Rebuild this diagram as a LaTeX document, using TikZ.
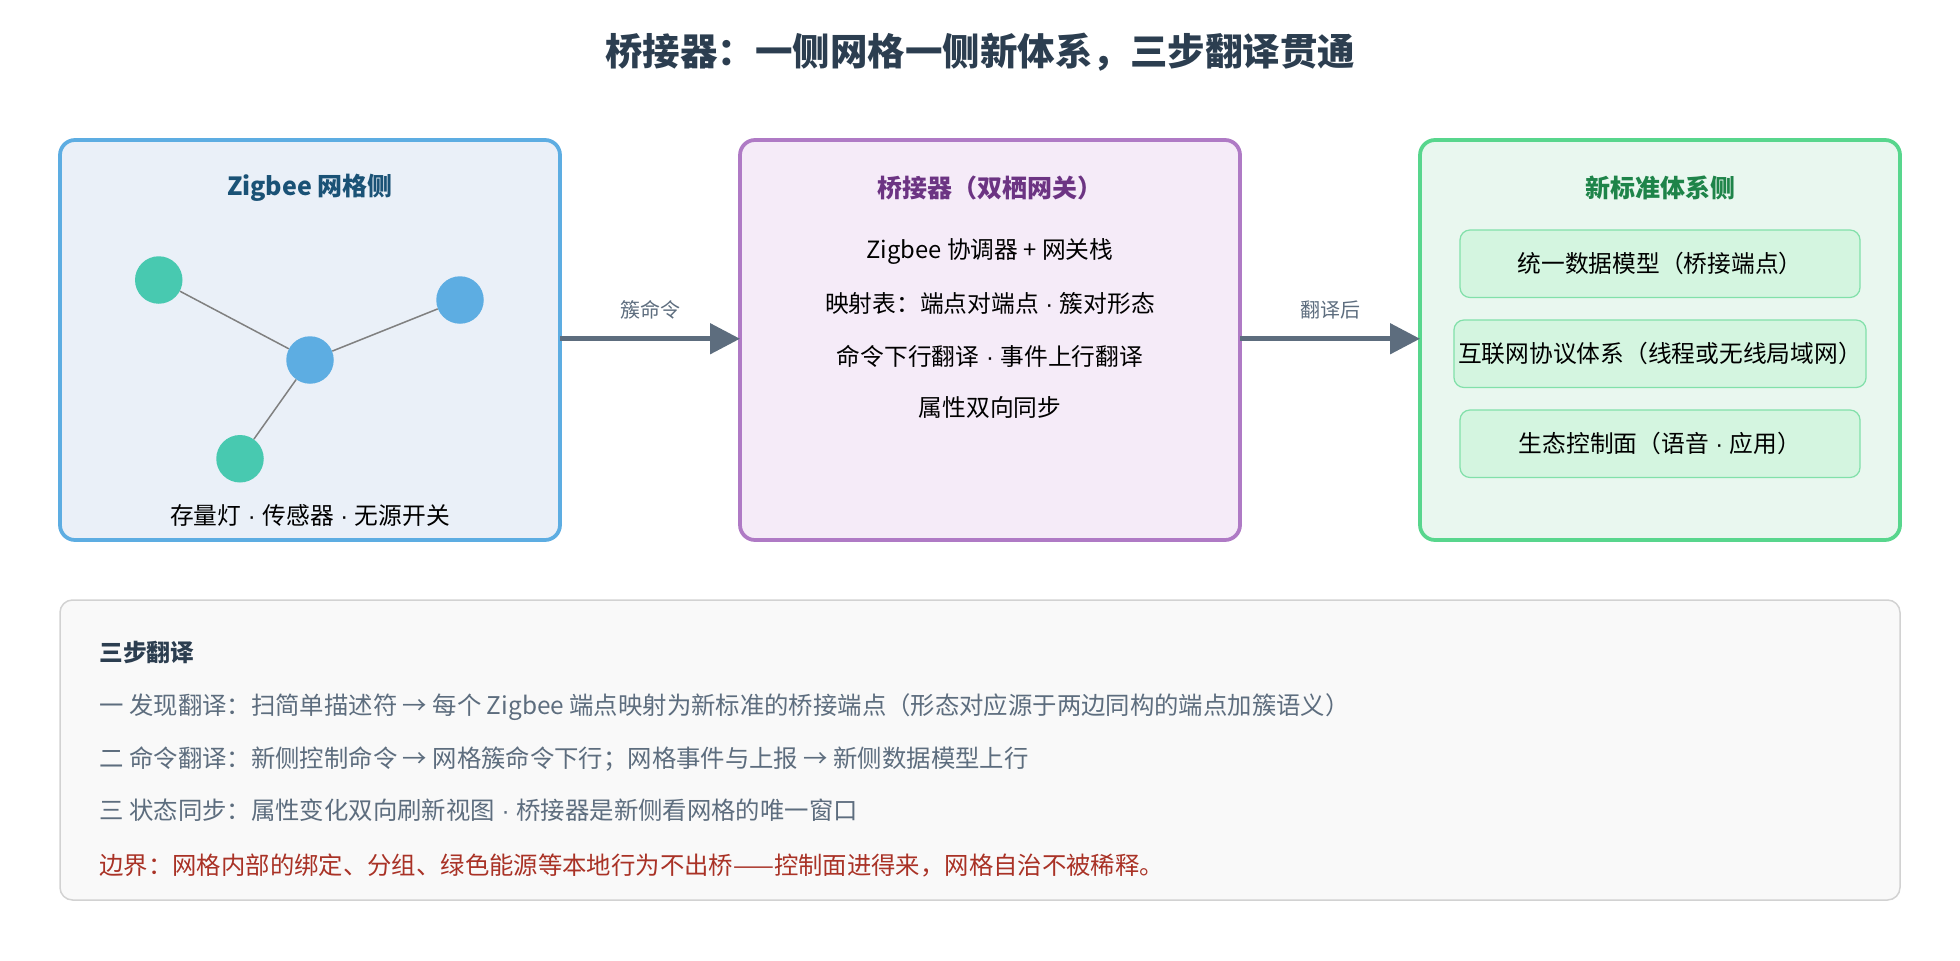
\documentclass[tikz,border=0pt]{standalone}
\usepackage{fontspec}
\setmainfont{Noto Sans CJK SC}
\newfontfamily\lat{Liberation Sans}
\newcommand{\md}{{\lat\ ·\ }}
\usetikzlibrary{arrows.meta}
\definecolor{ttl}{HTML}{2C3E50}
\definecolor{gr}{HTML}{5D6D7E}
\definecolor{bluedot}{HTML}{5DADE2}
\definecolor{greendot}{HTML}{48C9B0}
\tikzset{
 box/.style={draw,line width=3pt,rounded corners=12pt},
 inner/.style={draw=HTMLgreen,fill=HTMLgreenf,line width=1pt,rounded corners=8pt,minimum width=320pt,minimum height=54pt,font=\fontsize{19}{22}\selectfont},
 txt/.style={font=\fontsize{19}{22}\selectfont},
 hd/.style={font=\fontsize{20}{24}\selectfont\bfseries},
 dot/.style={circle,minimum size=38pt,inner sep=0pt},
 arr/.style={draw=gr,line width=4pt,-{Triangle[length=24pt,width=24pt]}},
 lab/.style={font=\fontsize{16}{19}\selectfont,text=gr},
 bl/.style={anchor=west,font=\fontsize{19.5}{22}\selectfont,text=gr}
}
\definecolor{HTMLgreen}{HTML}{82E0AA}
\definecolor{HTMLgreenf}{HTML}{D4F5E0}
\begin{document}
\begin{tikzpicture}[x=1pt,y=-1pt]
\useasboundingbox (0,0) rectangle (1568,768);
\node[font=\fontsize{30}{34}\selectfont\bfseries,text=ttl] (title) at (784,42) {桥接器：一侧网格一侧新体系，三步翻译贯通};
% left
\draw[box,draw=bluedot,fill={rgb,255:red,234;green,240;blue,248}] (48,112) rectangle (448,432);
\coordinate (L) at (448,271);
\node[hd,text={rgb,255:red,26;green,82;blue,118}] (lt) at (248,150) {Zigbee 网格侧};
\node[dot,fill=bluedot] (c) at (248,288) {};
\node[dot,fill=greendot] (n1) at (127,224) {};
\node[dot,fill=bluedot] (n2) at (368,240) {};
\node[dot,fill=greendot] (n3) at (192,367) {};
\foreach \n in {n1,n2,n3} \draw[gray,line width=1.2pt] (c) -- (\n);
\node[txt] (lb) at (248,412) {存量灯\md 传感器\md 无源开关};
% middle
\draw[box,draw={rgb,255:red,175;green,122;blue,197},fill={rgb,255:red,245;green,235;blue,248}] (592,112) rectangle (992,432);
\coordinate (M1) at (592,271); \coordinate (M2) at (992,271);
\node[hd,text={rgb,255:red,108;green,52;blue,131}] (mt) at (792,150) {桥接器（双栖网关）};
\node[txt] (m1) at (792,201) {Zigbee 协调器 + 网关栈};
\node[txt] (m2) at (792,243) {映射表：端点对端点\md 簇对形态};
\node[txt] (m3) at (792,285) {命令下行翻译\md 事件上行翻译};
\node[txt] (m4) at (792,326) {属性双向同步};
% right
\draw[box,draw={rgb,255:red,88;green,214;blue,141},fill={rgb,255:red,233;green,247;blue,239}] (1136,112) rectangle (1520,432);
\coordinate (R) at (1136,271);
\node[hd,text={rgb,255:red,30;green,132;blue,73}] (rt) at (1328,150) {新标准体系侧};
\node[inner] (r1) at (1328,211) {统一数据模型（桥接端点）};
\node[inner] (r2) at (1328,283) {互联网协议体系（线程或无线局域网）};
\node[inner] (r3) at (1328,355) {生态控制面（语音\md 应用）};
% arrows
\draw[arr] (L) -- node[lab,above=10pt] {簇命令} (M1);
\draw[arr] (M2) -- node[lab,above=10pt] {翻译后} (R);
% bottom
\draw[draw=gray!35,fill=gray!5,line width=1.2pt,rounded corners=10pt] (48,480) rectangle (1520,720);
\node[bl,text=ttl,font=\fontsize{19}{22}\selectfont\bfseries] (b0) at (76,522) {三步翻译};
\node[bl] (b1) at (76,566) {一 发现翻译：扫简单描述符 → 每个 Zigbee 端点映射为新标准的桥接端点（形态对应源于两边同构的端点加簇语义）};
\node[bl] (b2) at (76,607) {二 命令翻译：新侧控制命令 → 网格簇命令下行；网格事件与上报 → 新侧数据模型上行};
\node[bl] (b3) at (76,648) {三 状态同步：属性变化双向刷新视图\md 桥接器是新侧看网格的唯一窗口};
\node[bl,text={rgb,255:red,169;green,50;blue,38}] (b4) at (76,692) {边界：网格内部的绑定、分组、绿色能源等本地行为不出桥——控制面进得来，网格自治不被稀释。};
\end{tikzpicture}
\end{document}
